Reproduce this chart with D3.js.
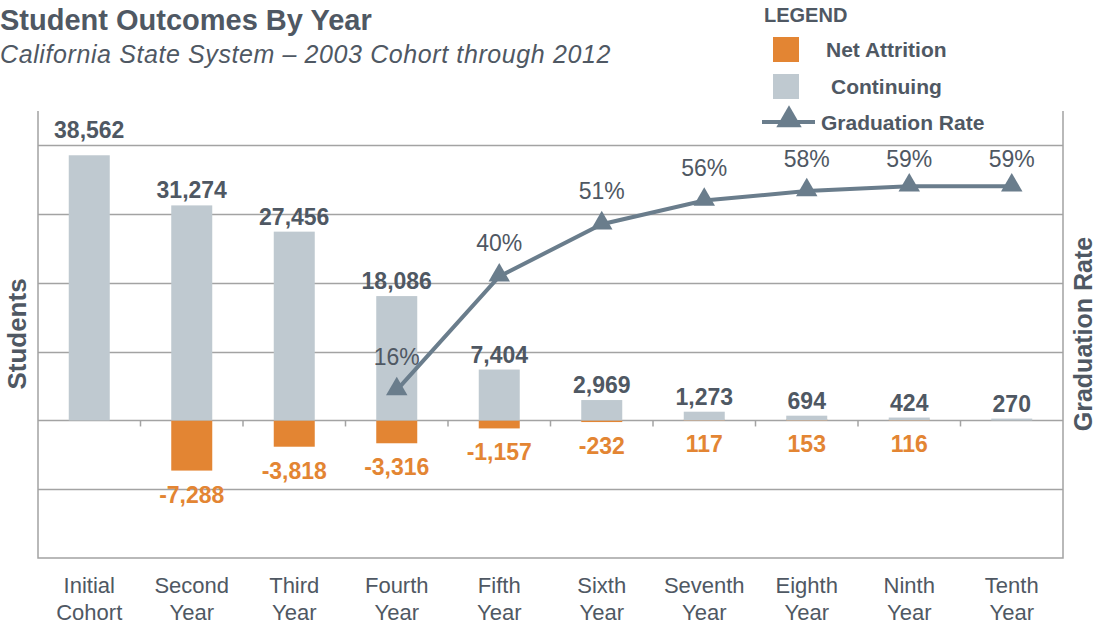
<!DOCTYPE html>
<html>
<head>
<meta charset="utf-8">
<script src="https://cdn.jsdelivr.net/npm/d3@7"></script>
<style>
  body { margin: 0; background: #fff; }
  text { font-family: "Liberation Sans", Arial, sans-serif; }
</style>
</head>
<body>
<script>
// chart data
var categories = [['Initial', 'Cohort'], ['Second', 'Year'], ['Third', 'Year'], ['Fourth', 'Year'],
                  ['Fifth', 'Year'], ['Sixth', 'Year'], ['Seventh', 'Year'], ['Eighth', 'Year'],
                  ['Ninth', 'Year'], ['Tenth', 'Year']]
var continuing = [38562, 31274, 27456, 18086, 7404, 2969, 1273, 694, 424, 270]
var attrition = [null, -7288, -3818, -3316, -1157, -232, 117, 153, 116, null]
var gradRate = [null, null, null, 0.16, 0.40, 0.51, 0.56, 0.58, 0.59, 0.59]
var gridValues = [-10000, 0, 10000, 20000, 30000, 40000]

var w = 1097
var h = 625
var mLeft = 38, mRight = 1063, mTop = 111, mBottom = 558

var textColor = '#4f5863'
var orange = '#e38533'
var barGray = '#bfc9d0'
var lineColor = '#6a7d8c'
var gridColor = '#a3a3a3'

var fmt = function(d){ return d3.format(',')(d).replace('\u2212', '-') } // plain hyphen like the original

var svg = d3.select('body')
  .append('svg')
  .attr('width', w)
  .attr('height', h)

var x = d3.scaleBand()
  .domain(d3.range(categories.length))
  .range([mLeft, mRight])

var y = d3.scaleLinear() // students
  .domain([-20000, 45000])
  .range([mBottom, mTop])

var yR = d3.scaleLinear() // graduation rate (right axis, unlabeled)
  .domain([0, 1])
  .range([466, -8])

var barW = x.bandwidth() * 0.4
var cx = function(i){ return x(i) + x.bandwidth() / 2 }

// gridlines
svg.selectAll('line.grid')
  .data(gridValues)
  .enter()
  .append('line')
  .attr('class', 'grid')
  .attr('x1', mLeft)
  .attr('x2', mRight)
  .attr('y1', function(d){ return Math.round(y(d)) + 0.5 })
  .attr('y2', function(d){ return Math.round(y(d)) + 0.5 })
  .attr('stroke', gridColor)
  .attr('stroke-width', 1.5)

// frame: left, right, bottom
svg.append('path')
  .attr('d', 'M' + mLeft + ',' + mTop + 'V' + mBottom + 'H' + mRight + 'V' + mTop)
  .attr('fill', 'none')
  .attr('stroke', gridColor)
  .attr('stroke-width', 1.5)

// category ticks below the zero line
svg.selectAll('line.tick')
  .data(d3.range(1, categories.length))
  .enter()
  .append('line')
  .attr('class', 'tick')
  .attr('x1', function(d){ return x(d) })
  .attr('x2', function(d){ return x(d) })
  .attr('y1', y(0))
  .attr('y2', y(0) + 6)
  .attr('stroke', gridColor)
  .attr('stroke-width', 1.5)

// attrition bars
svg.selectAll('rect.attr')
  .data(attrition)
  .enter()
  .append('rect')
  .attr('class', 'attr')
  .attr('x', function(d, i){ return cx(i) - barW / 2 })
  .attr('y', function(d){ return d === null ? y(0) : Math.min(y(0), y(d)) })
  .attr('width', barW)
  .attr('height', function(d){ return d === null ? 0 : Math.abs(y(d) - y(0)) })
  .attr('fill', orange)

// continuing bars
svg.selectAll('rect.cont')
  .data(continuing)
  .enter()
  .append('rect')
  .attr('class', 'cont')
  .attr('x', function(d, i){ return cx(i) - barW / 2 })
  .attr('y', function(d){ return y(d) })
  .attr('width', barW)
  .attr('height', function(d){ return y(0) - y(d) })
  .attr('fill', barGray)

// continuing labels
svg.selectAll('text.cont')
  .data(continuing)
  .enter()
  .append('text')
  .attr('class', 'cont')
  .text(fmt)
  .attr('x', function(d, i){ return cx(i) })
  .attr('y', function(d, i){
    var b = y(d) - 7
    if (i === 0) b = y(40000) - 7 // keep first label above gridline
    return Math.min(b, y(0) - 8)
  })
  .attr('text-anchor', 'middle')
  .attr('font-size', '23px')
  .attr('font-weight', 'bold')
  .attr('fill', textColor)

// attrition labels
svg.selectAll('text.attr')
  .data(attrition)
  .enter()
  .append('text')
  .attr('class', 'attr')
  .text(function(d){ return d === null ? '' : fmt(d) })
  .attr('x', function(d, i){ return cx(i) })
  .attr('y', function(d){
    var lo = d === null ? y(0) : Math.max(y(0), y(d))
    return Math.max(lo + 32, y(0) + 26)
  })
  .attr('text-anchor', 'middle')
  .attr('font-size', '23px')
  .attr('font-weight', 'bold')
  .attr('fill', orange)

// graduation rate line
var rateData = gradRate.map(function(d, i){ return { i: i, v: d } })
  .filter(function(d){ return d.v !== null })

var line = d3.line()
  .x(function(d){ return cx(d.i) })
  .y(function(d){ return yR(d.v) })

svg.append('path')
  .datum(rateData)
  .attr('d', line)
  .attr('fill', 'none')
  .attr('stroke', lineColor)
  .attr('stroke-width', 4)

var tri = d3.symbol().type(d3.symbolTriangle).size(200)

svg.selectAll('path.marker')
  .data(rateData)
  .enter()
  .append('path')
  .attr('class', 'marker')
  .attr('d', tri)
  .attr('transform', function(d){ return 'translate(' + cx(d.i) + ',' + (yR(d.v) - 1) + ')' })
  .attr('fill', lineColor)

svg.selectAll('text.rate')
  .data(rateData)
  .enter()
  .append('text')
  .attr('class', 'rate')
  .text(function(d){ return d3.format('.0%')(d.v) })
  .attr('x', function(d){ return cx(d.i) })
  .attr('y', function(d){ return Math.max(yR(d.v) - 25, y(40000) + 22) })
  .attr('text-anchor', 'middle')
  .attr('font-size', '23px')
  .attr('fill', textColor)

// category labels
var cat = svg.selectAll('text.cat')
  .data(categories)
  .enter()
  .append('text')
  .attr('class', 'cat')
  .attr('y', 593)
  .attr('text-anchor', 'middle')
  .attr('font-size', '22px')
  .attr('fill', textColor)

cat.append('tspan')
  .attr('x', function(d, i){ return cx(i) })
  .text(function(d){ return d[0] })
cat.append('tspan')
  .attr('x', function(d, i){ return cx(i) })
  .attr('dy', 27)
  .text(function(d){ return d[1] })

// axis titles
svg.append('text')
  .text('Students')
  .attr('transform', 'translate(26,334) rotate(-90)')
  .attr('text-anchor', 'middle')
  .attr('font-size', '26px')
  .attr('font-weight', 'bold')
  .attr('fill', textColor)

svg.append('text')
  .text('Graduation Rate')
  .attr('transform', 'translate(1092,334) rotate(-90)')
  .attr('text-anchor', 'middle')
  .attr('font-size', '25px')
  .attr('font-weight', 'bold')
  .attr('fill', textColor)

// title
svg.append('text')
  .text('Student Outcomes By Year')
  .attr('x', 0)
  .attr('y', 30)
  .attr('font-size', '29px')
  .attr('font-weight', 'bold')
  .attr('fill', textColor)

svg.append('text')
  .text('California State System \u2013 2003 Cohort through 2012')
  .attr('x', 0)
  .attr('y', 63)
  .attr('font-size', '25px')
  .attr('letter-spacing', '0.6px')
  .attr('font-style', 'italic')
  .attr('fill', textColor)

// legend
svg.append('text')
  .text('LEGEND')
  .attr('x', 764)
  .attr('y', 22)
  .attr('font-size', '20px')
  .attr('font-weight', 'bold')
  .attr('fill', textColor)

var legendItems = [
  { label: 'Net Attrition', color: orange, y: 49, tx: 826 },
  { label: 'Continuing', color: barGray, y: 86, tx: 831 }
]

svg.selectAll('rect.legend')
  .data(legendItems)
  .enter()
  .append('rect')
  .attr('class', 'legend')
  .attr('x', 773)
  .attr('y', function(d){ return d.y - 12 })
  .attr('width', 26)
  .attr('height', 25)
  .attr('fill', function(d){ return d.color })

svg.selectAll('text.legend')
  .data(legendItems)
  .enter()
  .append('text')
  .attr('class', 'legend')
  .text(function(d){ return d.label })
  .attr('x', function(d){ return d.tx })
  .attr('y', function(d){ return d.y + 8 })
  .attr('font-size', '21px')
  .attr('font-weight', 'bold')
  .attr('fill', textColor)

svg.append('line')
  .attr('x1', 762)
  .attr('x2', 815)
  .attr('y1', 122)
  .attr('y2', 122)
  .attr('stroke', lineColor)
  .attr('stroke-width', 4)

svg.append('path')
  .attr('d', d3.symbol().type(d3.symbolTriangle).size(280))
  .attr('transform', 'translate(789,120)')
  .attr('fill', lineColor)

svg.append('text')
  .text('Graduation Rate')
  .attr('x', 821)
  .attr('y', 130)
  .attr('font-size', '21px')
  .attr('font-weight', 'bold')
  .attr('fill', textColor)
</script>
</body>
</html>
